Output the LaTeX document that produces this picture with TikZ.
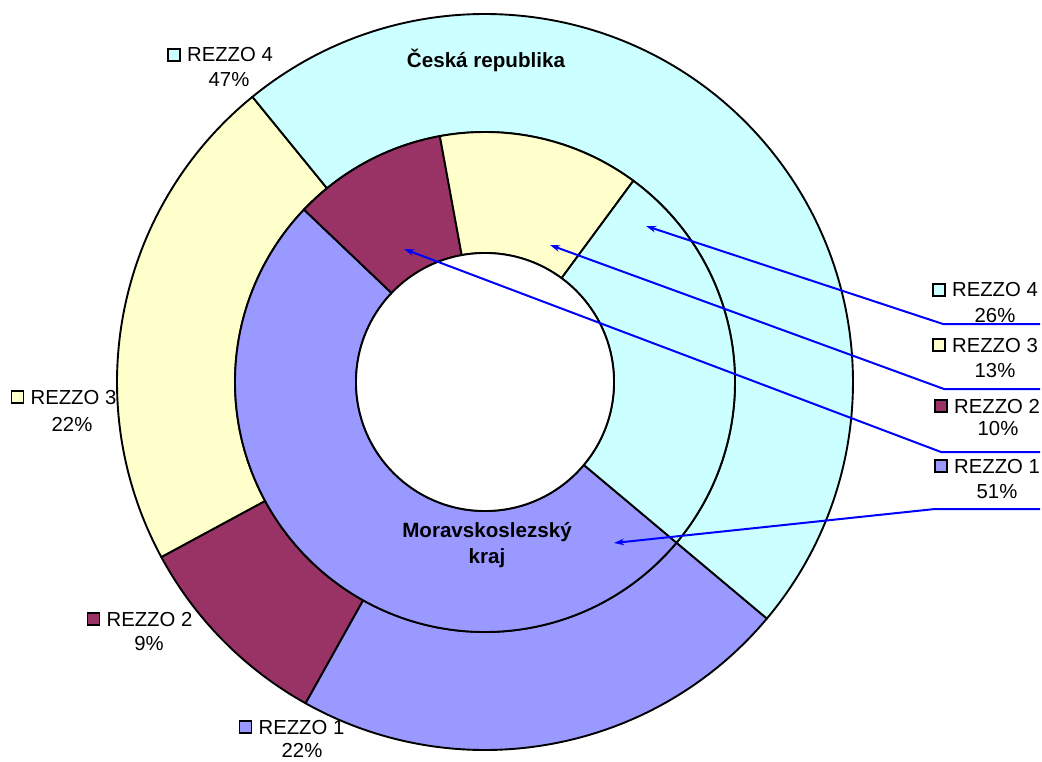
\documentclass[tikz,border=0pt]{standalone}
\usepackage{fontspec}
\setmainfont{Liberation Sans}
\usetikzlibrary{arrows.meta}
\definecolor{rone}{HTML}{9999FF}
\definecolor{rtwo}{HTML}{993366}
\definecolor{rthree}{HTML}{FFFFCC}
\definecolor{rfour}{HTML}{CCFFFF}
\definecolor{lead}{HTML}{0000FF}
\newcommand\ringsector[5]{%
  \filldraw[wedge, fill=#1, shift={(C)}] (#2:#4) arc[start angle=#2, end angle=#3, radius=#4]
    -- (#3:#5) arc[start angle=#3, end angle=#2, radius=#5] -- cycle;}
\begin{document}
\begin{tikzpicture}[x=1pt,y=-1pt,
  wedge/.style={draw=black, line width=1.9pt, line join=round},
  lbl/.style={font=\fontsize{20.3}{24}\selectfont, inner sep=0pt, anchor=base},
  ringlbl/.style={font=\fontsize{20.6}{26}\selectfont\bfseries, inner sep=0pt, anchor=base, align=center},
  keybox/.style={draw=black, line width=1.9pt, minimum size=12pt, inner sep=0pt, anchor=south east},
  leader/.style={draw=lead, line width=2pt},
  leaderarrow/.style={leader, -{Stealth[length=10pt,width=6.5pt,inset=3pt]}}]
\useasboundingbox (0,0) rectangle (1042,762);
\fill[white] (0,0) rectangle (1042,762);
\coordinate (C) at (485,382);
% outer ring: Ceska republika
\ringsector{rone}{40}{119.2}{368}{250}
\ringsector{rtwo}{119.2}{151.6}{368}{250}
\ringsector{rthree}{151.6}{230.8}{368}{250}
\ringsector{rfour}{230.8}{400}{368}{250}
% inner ring: Moravskoslezsky kraj
\ringsector{rone}{40}{223.6}{250}{129}
\ringsector{rtwo}{223.6}{259.6}{250}{129}
\ringsector{rthree}{259.6}{306.4}{250}{129}
\ringsector{rfour}{306.4}{400}{250}{129}
\filldraw[wedge, fill=white] (C) circle[radius=129];
% ring names
\node[ringlbl] (cz) at (486,68) {Česká republika};
\node[ringlbl] (msk) at (487,563) {Moravskoslezský\\kraj};
% outer ring labels
\node[lbl] (o4t) at (230,62) {REZZO 4};
\node[lbl] (o4p) at (229,87) {47\%};
\node[keybox, fill=rfour] (o4k) at ([xshift=-6pt]o4t.base west) {};
\node[lbl] (o3t) at (73.5,404) {REZZO 3};
\node[lbl] (o3p) at (72,431) {22\%};
\node[keybox, fill=rthree] (o3k) at ([xshift=-6pt]o3t.base west) {};
\node[lbl] (o2t) at (149.5,626) {REZZO 2};
\node[lbl] (o2p) at (149,650) {9\%};
\node[keybox, fill=rtwo] (o2k) at ([xshift=-6pt]o2t.base west) {};
\node[lbl] (o1t) at (301.5,734) {REZZO 1};
\node[lbl] (o1p) at (302,757) {22\%};
\node[keybox, fill=rone] (o1k) at ([xshift=-6pt]o1t.base west) {};
% inner ring labels (right)
\node[lbl] (i4t) at (995,297) {REZZO 4};
\node[lbl] (i4p) at (995,323) {26\%};
\node[keybox, fill=rfour] (i4k) at ([xshift=-6pt]i4t.base west) {};
\node[lbl] (i3t) at (995,352) {REZZO 3};
\node[lbl] (i3p) at (995,377) {13\%};
\node[keybox, fill=rthree] (i3k) at ([xshift=-6pt]i3t.base west) {};
\node[lbl] (i2t) at (997,413) {REZZO 2};
\node[lbl] (i2p) at (998,435) {10\%};
\node[keybox, fill=rtwo] (i2k) at ([xshift=-6pt]i2t.base west) {};
\node[lbl] (i1t) at (997,473) {REZZO 1};
\node[lbl] (i1p) at (997,498) {51\%};
\node[keybox, fill=rone] (i1k) at ([xshift=-6pt]i1t.base west) {};
% leader lines
\coordinate (h4) at (1040,324); \coordinate (e4) at (943,324); \coordinate (t4) at (646,226);
\coordinate (h3) at (1040,389); \coordinate (e3) at (944,389); \coordinate (t3) at (550,245);
\coordinate (h2) at (1040,452); \coordinate (e2) at (941,452); \coordinate (t2) at (404,249);
\coordinate (h1) at (1040,509); \coordinate (e1) at (935,509); \coordinate (t1) at (614,543);
\draw[leaderarrow] (h4) -- (e4) -- (t4);
\draw[leaderarrow] (h3) -- (e3) -- (t3);
\draw[leaderarrow] (h2) -- (e2) -- (t2);
\draw[leaderarrow] (h1) -- (e1) -- (t1);
\end{tikzpicture}
\end{document}
